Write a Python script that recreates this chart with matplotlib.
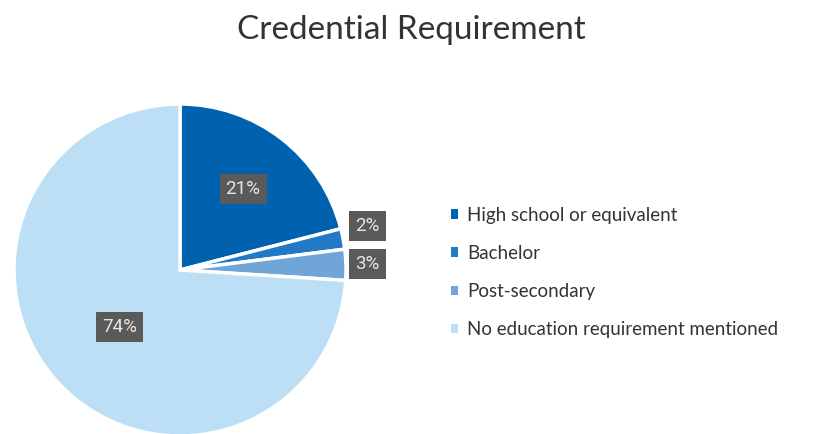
import numpy as np
import matplotlib.pyplot as plt
from matplotlib.patches import Patch

categories = ["High school or equivalent", "Bachelor", "Post-secondary",
              "No education requirement mentioned"]
values = [21, 2, 3, 74]
labels = ["21%", "2%", "3%", "74%"]
colors = ["#0062AE", "#2379C5", "#6FA5D8", "#BCDFF5"]

plt.rcParams['font.family'] = ['Lato', 'DejaVu Sans']

fig = plt.figure(figsize=(8.23, 4.34), dpi=100)
W, H = 823, 434
cx, cy, R = 180, 270, 166
ax = fig.add_axes([(cx - R) / W, (H - cy - R) / H, 2 * R / W, 2 * R / H])
wedges, _ = ax.pie(values, colors=colors, startangle=90, counterclock=False,
                   radius=1, wedgeprops=dict(edgecolor="white", linewidth=2.5))
ax.set_xlim(-1, 1)
ax.set_ylim(-1, 1)
ax.set_aspect("equal")
ax.axis("off")
for w in wedges:
    w.set_clip_on(False)

box = dict(boxstyle="square,pad=0.32", fc="#5A5A5A", ec="none")
dist = [0.62, None, None, 0.50]
for i, w in enumerate(wedges):
    mid = np.deg2rad((w.theta1 + w.theta2) / 2)
    if dist[i] is not None:
        x, y = dist[i] * np.cos(mid), dist[i] * np.sin(mid)
    else:
        x = 1.13
        y = 1.16 * np.sin(mid) + (0.05 if i == 1 else 0.0)
    ax.text(x, y, labels[i], ha="center", va="center", fontsize=13.5,
            family=["Roboto", "DejaVu Sans"], color="#E6E6E6", bbox=box)

fig.text(0.5, 0.931, "Credential Requirement", ha="center", va="center",
         fontsize=24, color="#333333")

handles = [Patch(facecolor=c, edgecolor="none") for c in colors]
leg = fig.legend(handles, categories, loc="center left",
                 bbox_to_anchor=(0.527, 0.372), frameon=False,
                 fontsize=13.5, handlelength=0.42, handleheight=0.42,
                 handletextpad=0.45, labelspacing=1.13, labelcolor="#333333")

fig.savefig("out.png", dpi=100)
